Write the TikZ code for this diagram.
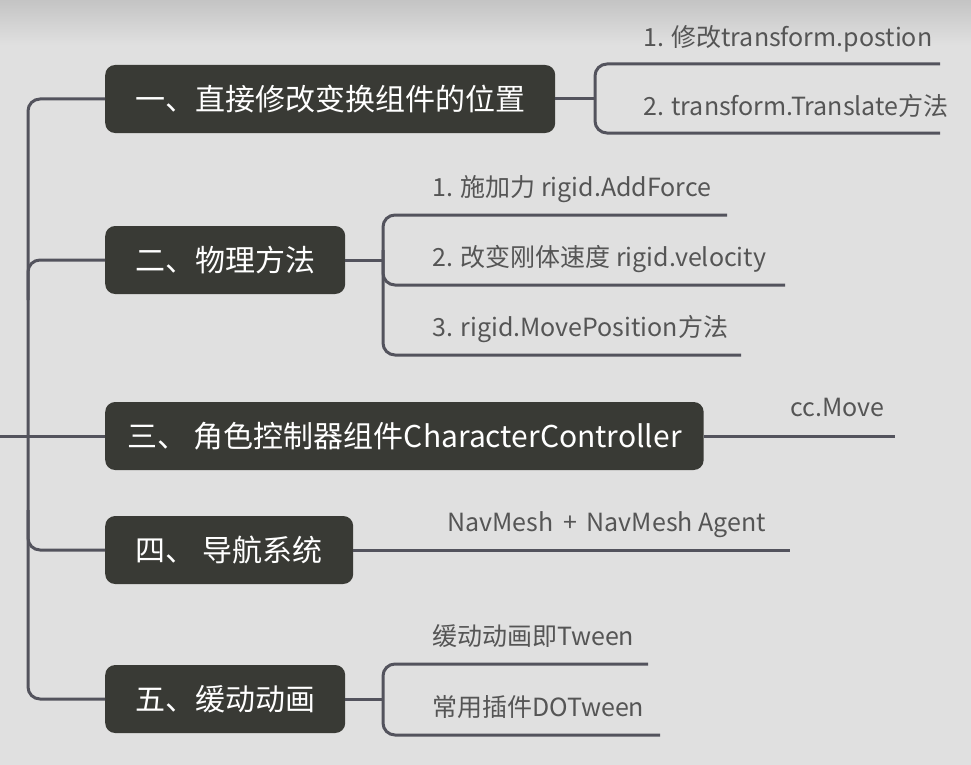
\documentclass[tikz,border=0pt]{standalone}
\usepackage{fontspec}
\setmainfont{Noto Sans CJK SC}
\usetikzlibrary{positioning}
\definecolor{bgGray}{HTML}{E0E0E0}
\definecolor{topGray}{HTML}{C4C4C4}
\definecolor{boxDark}{HTML}{393A35}
\definecolor{lineGray}{HTML}{53535D}
\definecolor{leafGray}{HTML}{555555}

\begin{document}
\begin{tikzpicture}[x=1pt, y=-1pt,
    topic/.style={fill=boxDark, text=white, rounded corners=10pt, anchor=west,
        minimum height=68pt, inner xsep=29pt, font=\fontsize{30}{36}\selectfont},
    branch/.style={draw=lineGray, line width=3pt, rounded corners=12pt},
    leaf/.style={text=leafGray, anchor=base west, inner sep=0pt,
        font=\fontsize{25}{30}\selectfont}]
    % 背景
    \useasboundingbox (0,0) rectangle (971,765);
    \fill[bgGray] (0,0) rectangle (971,765);
    \shade[top color=topGray, bottom color=bgGray] (0,0) rectangle (971,45);

    % 主题框
    \node[topic, minimum width=450pt] (b1) at (105,99) {一、直接修改变换组件的位置};
    \node[topic, minimum width=240pt] (b2) at (105,260) {二、物理方法};
    \node[topic, inner xsep=22pt, minimum width=598pt] (b3) at (105,436) {三、 角色控制器组件CharacterController};
    \node[topic, minimum width=248pt] (b4) at (105,550) {四、 导航系统};
    \node[topic, minimum width=240pt] (b5) at (105,699) {五、缓动动画};

    % 主干
    \coordinate (root) at (0,436);
    \draw[branch] (b1.west) -- (28,99) -- (28,699) -- (b5.west);
    \draw[branch] (28,300) |- (b2.west);
    \draw[branch] (28,510) |- (b4.west);
    \draw[branch] (root) -- (b3.west);

    % 一
    \node[leaf] (a1) at (643,47) {1. 修改transform.postion};
    \node[leaf] (a2) at (643,116) {2. transform.Translate方法};
    \coordinate (a1e) at (940,64);
    \coordinate (a2e) at (940,133);
    \draw[branch] (b1.east) -- (595,99);
    \draw[branch] (a1e) -- (595,64) -- (595,133) -- (a2e);

    % 二
    \node[leaf] (c1) at (432,196) {1. 施加力 rigid.AddForce};
    \node[leaf] (c2) at (432,266) {2. 改变刚体速度 rigid.velocity};
    \node[leaf] (c3) at (432,336) {3. rigid.MovePosition方法};
    \coordinate (c1e) at (727,215);
    \coordinate (c2e) at (785,285);
    \coordinate (c3e) at (741,355);
    \draw[branch] (b2.east) -- (383,260);
    \draw[branch] (c1e) -- (383,215) -- (383,355) -- (c3e);
    \draw[branch] (383,250) |- (c2e);

    % 三
    \node[leaf] (d1) at (790,416) {cc.Move};
    \coordinate (d1e) at (895,436);
    \draw[branch] (b3.east) -- (d1e);

    % 四
    \node[leaf] (e1) at (447,531) {NavMesh \,+\, NavMesh Agent};
    \coordinate (e1e) at (790,550);
    \draw[branch] (b4.east) -- (e1e);

    % 五
    \node[leaf] (f1) at (432,645) {缓动动画即Tween};
    \node[leaf] (f2) at (432,716) {常用插件DOTween};
    \coordinate (f1e) at (648,664);
    \coordinate (f2e) at (660,735);
    \draw[branch] (b5.east) -- (383,699);
    \draw[branch] (f1e) -- (383,664) -- (383,735) -- (f2e);
\end{tikzpicture}
\end{document}
